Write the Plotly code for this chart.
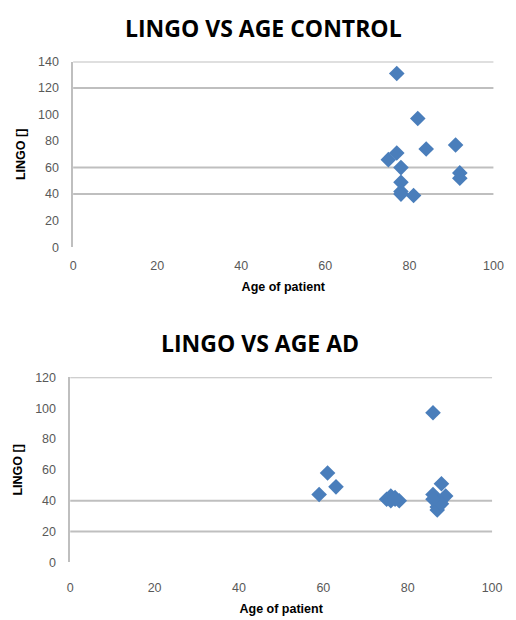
import plotly.graph_objects as go

# Control group
ctrl_age = [77, 82, 84, 91, 77, 75, 78, 78, 78, 78, 81, 92, 92]
ctrl_lingo = [131, 97, 74, 77, 71, 66, 60, 49, 42, 40, 39, 56, 52]

# AD group
ad_age = [86, 61, 63, 59, 75, 76, 76, 77, 78, 77, 88, 89, 86, 87, 87, 87, 88, 86]
ad_lingo = [97, 58, 49, 44, 41, 43, 40, 42, 40, 41, 51, 43, 44, 39, 36, 34, 38, 41]

top_grid = [40, 60, 120, 140]
bot_grid = [20, 40, 120]

x_ticks = [0, 20, 40, 60, 80, 100]
top_yticks = [0, 20, 40, 60, 80, 100, 120, 140]
bot_yticks = [0, 20, 40, 60, 80, 100, 120]

BLUE = "#4a7ebb"
GRID = "#bfbfbf"
TICKFONT = dict(family="Liberation Sans", size=12.5, color="#595959")
TITLEFONT = dict(family="Liberation Sans", size=12.5, color="#000000")

fig = go.Figure()
marker = dict(symbol="diamond", size=12, color=BLUE, line=dict(width=0))
fig.add_trace(go.Scatter(x=ctrl_age, y=ctrl_lingo, mode="markers", marker=marker,
                         xaxis="x", yaxis="y", showlegend=False))
fig.add_trace(go.Scatter(x=ad_age, y=ad_lingo, mode="markers", marker=marker,
                         xaxis="x2", yaxis="y2", showlegend=False))

def xax(domain, anchor, standoff):
    return dict(domain=domain, anchor=anchor, range=[0, 100], tickvals=x_ticks,
                showgrid=False, zeroline=False, showline=False, tickfont=TICKFONT,
                ticklabelstandoff=standoff,
                title=dict(text="<b>Age of patient</b>", font=TITLEFONT, standoff=10))

def yax(domain, anchor, rng, ticks):
    return dict(domain=domain, anchor=anchor, range=rng, tickvals=ticks,
                showgrid=False, zeroline=False, showline=True, linecolor=GRID, linewidth=1.5,
                tickfont=TICKFONT, ticklabelstandoff=10,
                title=dict(text="<b>LINGO []</b>", font=TITLEFONT, standoff=10))

fig.update_layout(
    width=516, height=620, margin=dict(l=0, r=0, t=0, b=0),
    paper_bgcolor="white", plot_bgcolor="white",
    xaxis=xax([0.1395, 0.975], "y", 9),
    yaxis=yax([0.6037, 0.910], "x", [0, 140], top_yticks),
    xaxis2=xax([0.1337, 0.9723], "y2", 16),
    yaxis2=yax([0.0834, 0.389], "x2", [0, 120], bot_yticks),
)

shapes = []
for v in top_grid:
    shapes.append(dict(type="line", xref="x domain", yref="y", x0=0, x1=1, y0=v, y1=v,
                       line=dict(color=GRID, width=2), layer="below"))
for v in bot_grid:
    shapes.append(dict(type="line", xref="x2 domain", yref="y2", x0=0, x1=1, y0=v, y1=v,
                       line=dict(color=GRID, width=2), layer="below"))
fig.update_layout(shapes=shapes)

fig.add_annotation(text="<b>LINGO VS AGE CONTROL</b>", xref="paper", yref="paper",
                   x=267/516, y=1 - 21/620, showarrow=False, xanchor="center", yanchor="middle",
                   font=dict(family="Open Sans", size=23, color="black"))
fig.add_annotation(text="<b>LINGO VS AGE AD</b>", xref="paper", yref="paper",
                   x=264/516, y=1 - 344/620, showarrow=False, xanchor="center", yanchor="middle",
                   font=dict(family="Open Sans", size=23, color="black"))

fig.write_html("out.html")
